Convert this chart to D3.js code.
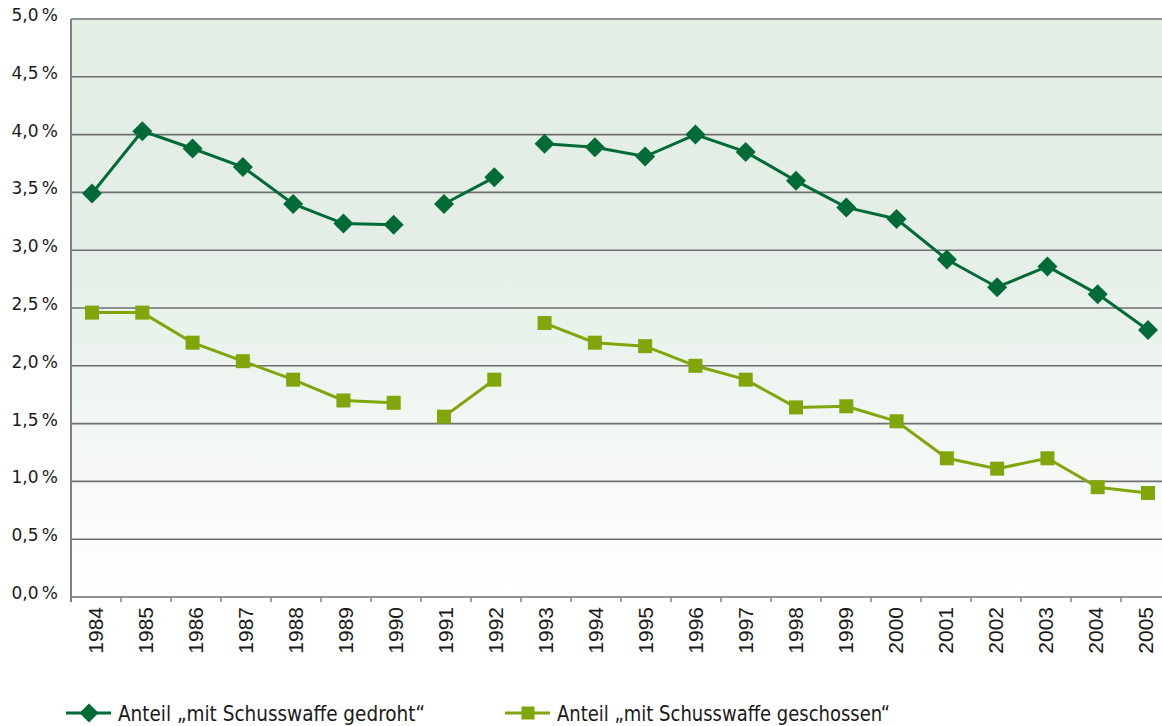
<!DOCTYPE html>
<html>
<head>
<meta charset="utf-8">
<script src="https://cdn.jsdelivr.net/npm/d3@7"></script>
<style>
  body { margin: 0; background: #fff; }
  svg { display: block; }
</style>
</head>
<body>
<div id="chart"></div>
<script>
const width = 1162
const height = 726

// data
const years = [1984, 1985, 1986, 1987, 1988, 1989, 1990, 1991, 1992, 1993, 1994,
               1995, 1996, 1997, 1998, 1999, 2000, 2001, 2002, 2003, 2004, 2005]
const gedroht = [3.49, 4.03, 3.88, 3.72, 3.40, 3.23, 3.22, 3.40, 3.63, 3.92, 3.89,
                 3.81, 4.00, 3.85, 3.60, 3.37, 3.27, 2.92, 2.68, 2.86, 2.62, 2.31]
const geschossen = [2.46, 2.46, 2.20, 2.04, 1.88, 1.70, 1.68, 1.56, 1.88, 2.37, 2.20,
                    2.17, 2.00, 1.88, 1.64, 1.65, 1.52, 1.20, 1.11, 1.20, 0.95, 0.90]
// the line is not drawn into these years from the year before
const breaks = [1991, 1993]
const yTicks = [0, 0.5, 1, 1.5, 2, 2.5, 3, 3.5, 4, 4.5, 5]
const seriesNames = ['Anteil \u201Emit Schusswaffe gedroht\u201C', 'Anteil \u201Emit Schusswaffe geschossen\u201C']

const dark = '#006b36'
const light = '#80a60c'

const margin = {left: 71, top: 19, bottom: 129}
const plotRight = margin.left + 50 * years.length

let svg = d3.select('#chart').append('svg')
    .attr('width', width)
    .attr('height', height)

let x = d3.scaleBand()
    .domain(years)
    .range([margin.left, plotRight])

// marks sit a little wider apart than the ticks in the original
let xm = d3.scalePoint()
    .domain(years)
    .range([margin.left + 21, plotRight - 23])

let y = d3.scaleLinear()
    .domain([0, 5])
    .range([height - margin.bottom, margin.top])

// background gradient
let defs = svg.append('defs')
let grad = defs.append('linearGradient')
    .attr('id', 'bg')
    .attr('x1', 0).attr('y1', 0).attr('x2', 0).attr('y2', 1)
grad.append('stop').attr('offset', '0%').attr('stop-color', '#e3eee5')
grad.append('stop').attr('offset', '40%').attr('stop-color', '#e4eee6')
grad.append('stop').attr('offset', '100%').attr('stop-color', '#ffffff')

svg.append('rect')
    .attr('x', margin.left)
    .attr('y', y(5))
    .attr('width', plotRight - margin.left)
    .attr('height', y(0) - y(5))
    .attr('fill', 'url(#bg)')

// gridlines
svg.append('g')
    .selectAll('line')
    .data(yTicks)
    .join('line')
    .attr('x1', margin.left)
    .attr('x2', plotRight)
    .attr('y1', d => y(d))
    .attr('y2', d => y(d))
    .attr('stroke', '#6f6f6f')
    .attr('stroke-width', 1.6)

// y labels
svg.append('g')
    .selectAll('text')
    .data(yTicks)
    .join('text')
    .attr('x', 58)
    .attr('y', d => y(d) + 2)
    .attr('text-anchor', 'end')
    .attr('font-family', 'DejaVu Sans, sans-serif')
    .attr('font-size', 17)
    .attr('fill', '#1a1a1a')
    .text(d => d3.format('.1f')(d).replace('.', ',') + '\u2009%')

// left axis
svg.append('line')
    .attr('x1', margin.left).attr('x2', margin.left)
    .attr('y1', y(5)).attr('y2', y(0) + 5)
    .attr('stroke', '#808080')
    .attr('stroke-width', 2)

// x ticks
svg.append('g')
    .selectAll('line')
    .data(years)
    .join('line')
    .attr('x1', d => x(d) + x.bandwidth())
    .attr('x2', d => x(d) + x.bandwidth())
    .attr('y1', y(0))
    .attr('y2', y(0) + 5)
    .attr('stroke', '#808080')
    .attr('stroke-width', 1.5)

// year labels
svg.append('g')
    .selectAll('text')
    .data(years)
    .join('text')
    .attr('transform', d => `translate(${x(d) + x.bandwidth() / 2 + 7},${y(0) + 10}) rotate(-90)`)
    .attr('text-anchor', 'end')
    .attr('font-family', 'Liberation Sans, Arial, sans-serif')
    .attr('font-size', 21)
    .attr('fill', '#1a1a1a')
    .text(d => d)

// split a series into connected pieces
function segments(values){
    let segs = []
    let cur = []
    years.forEach((yr, i) => {
        if (breaks.includes(yr) && cur.length){
            segs.push(cur)
            cur = []
        }
        cur.push({year: yr, value: values[i]})
    })
    segs.push(cur)
    return segs
}

let line = d3.line()
    .x(d => xm(d.year))
    .y(d => y(d.value))

let diamond = d3.symbol().type(d3.symbolSquare).size(200)
let square = d3.symbol().type(d3.symbolSquare).size(196)

function drawSeries(values, color, kind){
    let g = svg.append('g')
    g.selectAll('path.line')
        .data(segments(values))
        .join('path')
        .attr('class', 'line')
        .attr('d', line)
        .attr('fill', 'none')
        .attr('stroke', color)
        .attr('stroke-width', 3)
    g.selectAll('path.mark')
        .data(years.map((yr, i) => ({year: yr, value: values[i]})))
        .join('path')
        .attr('class', 'mark')
        .attr('d', kind == 'diamond' ? diamond : square)
        .attr('transform', d => `translate(${xm(d.year)},${y(d.value)})` + (kind == 'diamond' ? ' rotate(45)' : ''))
        .attr('fill', color)
}

drawSeries(geschossen, light, 'square')
drawSeries(gedroht, dark, 'diamond')

// legend
let legend = [
    {name: seriesNames[0], color: dark, kind: 'diamond', x: 66, w: 307},
    {name: seriesNames[1], color: light, kind: 'square', x: 505, w: 333}
]
let ly = 713
let lg = svg.append('g')
    .selectAll('g')
    .data(legend)
    .join('g')
    .attr('transform', d => `translate(${d.x},${ly})`)
lg.append('line')
    .attr('x1', 0).attr('x2', 45)
    .attr('stroke', d => d.color)
    .attr('stroke-width', 3)
lg.append('path')
    .attr('d', d => d.kind == 'diamond' ? d3.symbol().type(d3.symbolSquare).size(180)() : d3.symbol().type(d3.symbolSquare).size(170)())
    .attr('transform', d => 'translate(23,0)' + (d.kind == 'diamond' ? ' rotate(45)' : ''))
    .attr('fill', d => d.color)
lg.append('text')
    .attr('x', 52)
    .attr('y', 8)
    .attr('font-family', 'Liberation Sans Narrow, DejaVu Sans Condensed, sans-serif')
    .attr('font-size', 22)
    .attr('textLength', d => d.w)
    .attr('lengthAdjust', 'spacingAndGlyphs')
    .attr('fill', '#1a1a1a')
    .text(d => d.name)
</script>
</body>
</html>
